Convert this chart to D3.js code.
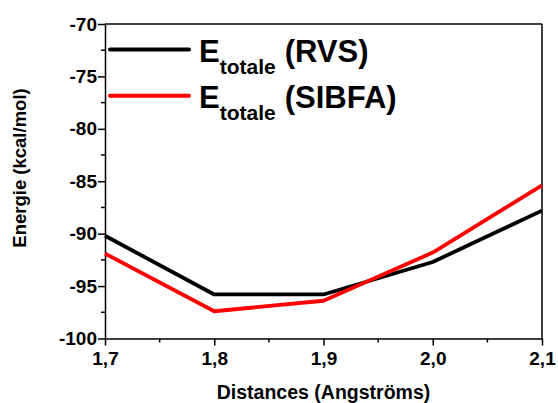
<!DOCTYPE html>
<html><head><meta charset="utf-8">
<script src="https://cdn.jsdelivr.net/npm/d3@7"></script>
<style>html,body{margin:0;padding:0;background:#fff;}svg{display:block;}text{font-family:"Liberation Sans",Arial,sans-serif;font-weight:bold;}</style>
</head><body>
<svg id="c" width="558" height="403"></svg>
<script>
const distances = [1.7, 1.8, 1.9, 2.0, 2.1];
const rvsValues = [-90.2, -95.8, -95.8, -92.7, -87.8];
const sibfaValues = [-91.9, -97.4, -96.4, -91.8, -85.4];
const xTicks = [1.7, 1.8, 1.9, 2.0, 2.1];
const yTicks = [-100, -95, -90, -85, -80, -75, -70];
const seriesNames = ["RVS", "SIBFA"];
const seriesColors = ["#000000", "#ff0000"];

const svg = d3.select("#c");
const L = 105, R = 542, T = 24, B = 338.5;
const x = d3.scaleLinear().domain([1.7, 2.1]).range([L, R]);
const y = d3.scaleLinear().domain([-100, -70]).range([B, T]);
const loc = d3.formatLocale({decimal: ",", thousands: ".", grouping: [3], currency: ["", ""], minus: "-"});
const fx = loc.format(".1f");
const fy = loc.format("d");

// frame top & right
svg.append("line").attr("x1", L).attr("x2", R).attr("y1", T).attr("y2", T).attr("stroke", "#000").attr("stroke-width", 1.5);
svg.append("line").attr("x1", R).attr("x2", R).attr("y1", T).attr("y2", B).attr("stroke", "#000").attr("stroke-width", 1.5);

// minor ticks
const xMinor = d3.range(1.75, 2.1, 0.1);
const yMinor = d3.range(-97.5, -70, 5);
svg.append("g").selectAll("line").data(xMinor).join("line")
  .attr("x1", d => x(d)).attr("x2", d => x(d)).attr("y1", B).attr("y2", B + 4)
  .attr("stroke", "#000").attr("stroke-width", 1.5);
svg.append("g").selectAll("line").data(yMinor).join("line")
  .attr("x1", L).attr("x2", L - 4).attr("y1", d => y(d)).attr("y2", d => y(d))
  .attr("stroke", "#000").attr("stroke-width", 1.5);

const xAxis = svg.append("g").attr("transform", `translate(0,${B})`)
  .call(d3.axisBottom(x).tickValues(xTicks).tickFormat(fx).tickSize(7).tickSizeOuter(0).tickPadding(6));
const yAxis = svg.append("g").attr("transform", `translate(${L},0)`)
  .call(d3.axisLeft(y).tickValues(yTicks).tickFormat(fy).tickSize(7).tickSizeOuter(0).tickPadding(1));
[xAxis, yAxis].forEach(a => {
  a.select(".domain").attr("stroke-width", 1.5);
  a.selectAll(".tick line").attr("stroke-width", 1.5);
  a.selectAll("text").attr("font-size", 19).attr("font-family", "'Liberation Sans',Arial,sans-serif").attr("font-weight", "bold").attr("fill", "#000");
});

const line = d3.line().x((d, i) => x(distances[i])).y(d => y(d));
[rvsValues, sibfaValues].forEach((vals, k) => {
  svg.append("path").datum(vals).attr("d", line).attr("fill", "none")
    .attr("stroke", seriesColors[k]).attr("stroke-width", 3.8).attr("stroke-linejoin", "round");
});

// legend
const legY = [49.5, 95.7];
seriesNames.forEach((name, k) => {
  svg.append("line").attr("x1", 110).attr("x2", 189).attr("y1", legY[k]).attr("y2", legY[k])
    .attr("stroke", seriesColors[k]).attr("stroke-width", 4).attr("stroke-linecap", "round");
  const t = svg.append("text").attr("x", 199).attr("y", legY[k] + 12).attr("font-size", 31).attr("fill", "#000");
  t.append("tspan").text("E");
  t.append("tspan").attr("font-size", 21).attr("dy", 12).text("totale");
  t.append("tspan").attr("dy", -12).attr("dx", 9).text("(" + name + ")");
});

// axis titles
svg.append("text").attr("x", (L + R) / 2).attr("y", 399).attr("text-anchor", "middle").attr("font-size", 19.5).text("Distances (Angströms)");
svg.append("text").attr("transform", "translate(26,168) rotate(-90)").attr("text-anchor", "middle").attr("font-size", 18.5).text("Energie (kcal/mol)");
</script>
</body></html>
